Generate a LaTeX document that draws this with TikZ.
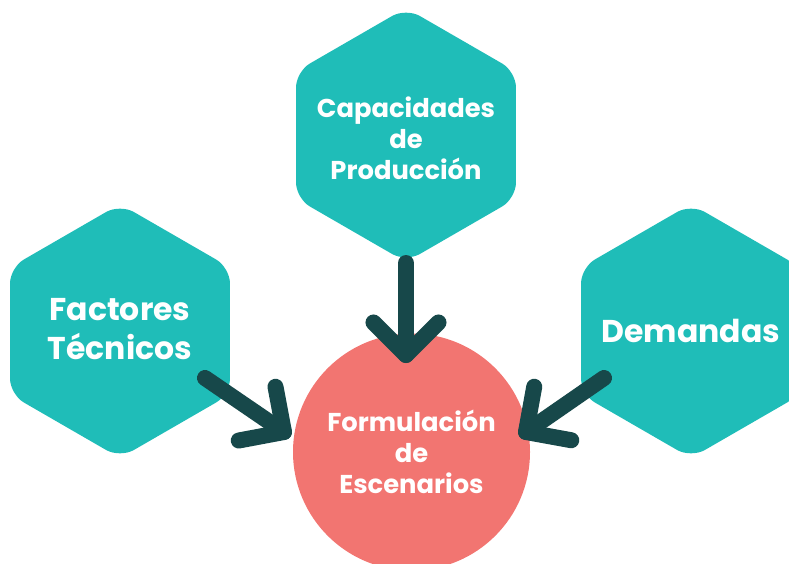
\documentclass[tikz,border=0pt]{standalone}
\usepackage{fontspec}
\setmainfont{Poppins}
\usetikzlibrary{shapes.geometric,calc}
\definecolor{hexteal}{HTML}{1FBDB8}
\definecolor{salmon}{HTML}{F27571}
\definecolor{darkteal}{HTML}{17484A}
\begin{document}
\begin{tikzpicture}[x=1pt,y=1pt,
  hexbox/.style={regular polygon, regular polygon sides=6, regular polygon rotate=30,
    minimum size=254pt, inner sep=0pt, fill=hexteal, rounded corners=16pt},
  circbox/.style={circle, minimum size=237pt, inner sep=0pt, fill=salmon},
  label/.style={text=white, align=center, inner sep=0pt},
  arrowline/.style={draw=darkteal, line width=16pt, line cap=round, line join=round},
  smalltext/.style={font=\fontsize{25.8}{31}\selectfont\bfseries},
  bigtext/.style={font=\fontsize{31.5}{38.5}\selectfont\bfseries}
]
\clip (0,0) rectangle (789,563);
\node[hexbox] (cap) at (406,428) {};
\node[hexbox] (fac) at (120,232) {};
\node[hexbox] (dem) at (691,232) {};
\node[circbox] (form) at (411.5,111) {};

\node[label, smalltext] (capt) at ([yshift=-3pt]cap.center) {Capacidades\\de\\Producción};
\node[label, bigtext] (fact) at ([yshift=2pt]fac.center) {Factores\\Técnicos};
\node[label, bigtext] (demt) at (dem.center) {Demandas};
\node[label, smalltext] (formt) at (form.center) {Formulación\\de\\Escenarios};

\coordinate (s1) at (406,300);
\coordinate (t1) at (406,208);
\coordinate (s2) at (205,185);
\coordinate (t2) at (284,131);
\coordinate (s3) at (604,185);
\coordinate (t3) at (526,131);

\foreach \s/\t in {s1/t1, s2/t2, s3/t3}{
  \draw[arrowline] (\s) -- (\t);
  \draw[arrowline] ($(\t)!46pt!-45:(\s)$) -- (\t) -- ($(\t)!46pt!45:(\s)$);
}
\end{tikzpicture}
\end{document}
